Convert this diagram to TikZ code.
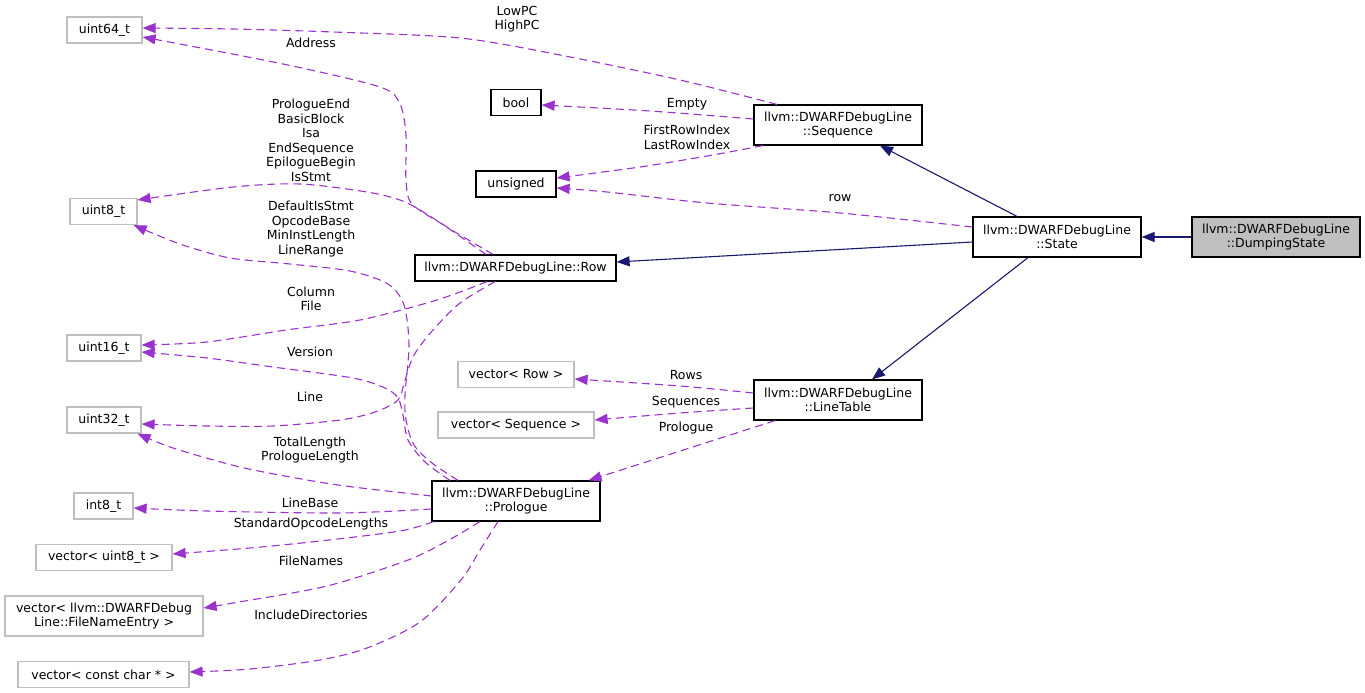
\documentclass[tikz,border=0pt]{standalone}
\usepackage{fontspec}
\setmainfont{DejaVu Sans}
\usetikzlibrary{arrows.meta}
\definecolor{deppurple}{HTML}{9A32CD}
\definecolor{inhblue}{HTML}{191970}
\definecolor{greyline}{HTML}{BFBFBF}
\definecolor{focusfill}{HTML}{BFBFBF}
\begin{document}
\begin{tikzpicture}[x=1pt,y=-1pt,
  every node/.style={font=\fontsize{12.5}{14.5}\selectfont, inner sep=0pt, align=center},
  docbox/.style={draw=black, line width=1.2pt, fill=white, rectangle},
  extbox/.style={draw=greyline, line width=1.2pt, fill=white, rectangle},
  focusbox/.style={draw=black, line width=1.2pt, fill=focusfill, rectangle},
  dep/.style={draw=deppurple, line width=1.1pt, dash pattern=on 8pt off 5pt,
    -{Triangle[length=13pt,width=10pt,fill=deppurple]}},
  inh/.style={draw=inhblue, line width=1.1pt,
    -{Triangle[length=13pt,width=10pt,fill=inhblue]}},
  lbl/.style={text=black}
]
\fill[white] (0,0) rectangle (1365,693);
\useasboundingbox (0,0) rectangle (1365,693);

% ---------- nodes ----------
\node[extbox, minimum width=75pt, minimum height=26pt] (u64) at (104.5,30) {uint64\_t};
\node[extbox, minimum width=67pt, minimum height=26pt] (u8) at (103.5,211.5) {uint8\_t};
\node[docbox, minimum width=50pt, minimum height=26pt] (bool) at (516,102.5) {bool};
\node[docbox, minimum width=80pt, minimum height=26pt] (unsig) at (516,184) {unsigned};
\node[docbox, minimum width=168pt, minimum height=40pt] (seq) at (838,125) {llvm::DWARFDebugLine\\::Sequence};
\node[docbox, minimum width=168pt, minimum height=40pt] (state) at (1057,237) {llvm::DWARFDebugLine\\::State};
\node[focusbox, minimum width=168pt, minimum height=40pt] (dump) at (1276,237) {llvm::DWARFDebugLine\\::DumpingState};
\node[docbox, minimum width=201pt, minimum height=26pt] (row) at (515.5,268) {llvm::DWARFDebugLine::Row};
\node[extbox, minimum width=74pt, minimum height=26pt] (u16) at (104,348) {uint16\_t};
\node[extbox, minimum width=74pt, minimum height=26pt] (u32) at (104,420) {uint32\_t};
\node[extbox, minimum width=116pt, minimum height=26pt] (vrow) at (516,374.5) {vector< Row >};
\node[extbox, minimum width=156pt, minimum height=26pt] (vseq) at (516,425) {vector< Sequence >};
\node[docbox, minimum width=168pt, minimum height=40pt] (lt) at (838,400) {llvm::DWARFDebugLine\\::LineTable};
\node[docbox, minimum width=168pt, minimum height=40pt] (pro) at (516,501) {llvm::DWARFDebugLine\\::Prologue};
\node[extbox, minimum width=59pt, minimum height=26pt] (i8) at (103.5,506) {int8\_t};
\node[extbox, minimum width=136pt, minimum height=26pt] (vu8) at (104,557.5) {vector< uint8\_t >};
\node[extbox, minimum width=198pt, minimum height=40pt] (vfn) at (104,616) {vector< llvm::DWARFDebug\\Line::FileNameEntry >};
\node[extbox, minimum width=171pt, minimum height=26pt] (vcc) at (103.5,674.5) {vector< const char * >};

% ---------- end points ----------
\coordinate (seqLow) at ([xshift=-61pt]seq.north);
\coordinate (u64a) at ([yshift=2pt]u64.east);
\coordinate (u64b) at ([yshift=-7pt]u64.east);
\coordinate (rowN1) at ([xshift=-29.5pt]row.north);
\coordinate (rowN2) at ([xshift=-22.5pt]row.north);
\coordinate (rowS1) at ([xshift=-28.5pt]row.south);
\coordinate (rowS2) at ([xshift=-20.5pt]row.south);
\coordinate (u8a) at ([yshift=11.5pt]u8.east);
\coordinate (u8b) at ([xshift=-4pt]u8.south east);
\coordinate (proN1) at ([xshift=-58pt]pro.north);
\coordinate (proN2) at ([xshift=-66pt]pro.north);
\coordinate (u16a) at ([yshift=3pt]u16.east);
\coordinate (u16b) at ([yshift=-4pt]u16.east);
\coordinate (u32a) at ([yshift=-4pt]u32.east);
\coordinate (u32b) at ([xshift=-4pt]u32.south east);
\coordinate (proW1) at ([yshift=5pt]pro.west);
\coordinate (proW2) at ([yshift=-8pt]pro.west);
\coordinate (proSW) at ([xshift=2pt]pro.south west);
\coordinate (proS1) at ([xshift=-36pt]pro.south);
\coordinate (proS2) at ([xshift=-18pt]pro.south);
\coordinate (i8a) at ([yshift=-2pt]i8.east);
\coordinate (vu8a) at ([yshift=3.5pt]vu8.east);
\coordinate (vfna) at ([yshift=8pt]vfn.east);
\coordinate (vcca) at ([yshift=2.5pt]vcc.east);
\coordinate (seqW) at ([yshift=6pt]seq.west);
\coordinate (boolE) at ([yshift=-2.5pt]bool.east);
\coordinate (seqS) at ([xshift=-75pt]seq.south);
\coordinate (unsA) at ([yshift=6pt]unsig.east);
\coordinate (unsB) at ([yshift=-4pt]unsig.east);
\coordinate (stW1) at ([yshift=10pt]state.west);
\coordinate (stW2) at ([yshift=-5pt]state.west);
\coordinate (rowE) at ([yshift=6pt]row.east);
\coordinate (stN) at ([xshift=-40pt]state.north);
\coordinate (seqS2) at ([xshift=42pt]seq.south);
\coordinate (stS) at ([xshift=-29pt]state.south);
\coordinate (ltN) at ([xshift=34pt]lt.north);
\coordinate (ltW1) at ([yshift=7pt]lt.west);
\coordinate (ltW2) at ([yshift=-8pt]lt.west);
\coordinate (vrowE) at ([yshift=-4.5pt]vrow.east);
\coordinate (vseqE) at ([yshift=5pt]vseq.east);
\coordinate (ltS) at ([xshift=-63pt]lt.south);
\coordinate (proNE) at ([xshift=-12pt]pro.north east);

% ---------- inheritance ----------
\draw[inh] (dump.west) -- (state.east);
\draw[inh] (stN) -- (seqS2);
\draw[inh] (stW2) -- (rowE);
\draw[inh] (stS) -- (ltN);

% ---------- usage ----------
\draw[dep] plot[smooth] coordinates {(seqLow) (680,80) (560,55) (460,38) (333,32) (233,29) (u64a)};
\draw[dep] plot[smooth] coordinates {(rowN1) (445,226) (412,204) (406,180) (406,135) (400,104) (380,87) (283,64) (u64b)};
\draw[dep] plot[smooth] coordinates {(rowN2) (455,232) (420,210) (400,200) (367,192) (300,184) (233,187) (u8a)};
\draw[dep] plot[smooth] coordinates {(proN1) (432,463) (414,445) (406,420) (405,395) (409,345) (404,305) (388,284) (350,271) (290,264) (230,258) (180,244) (u8b)};
\draw[dep] plot[smooth] coordinates {(rowS1) (460,292) (427,303) (360,320) (286,330) (207,342) (u16a)};
\draw[dep] plot[smooth] coordinates {(rowS2) (460,303) (433,330) (414,355) (405,380) (398,400) (375,412) (340,420) (273,426) (207,426) (u32a)};
\draw[dep] plot[smooth] coordinates {(proN2) (425,462) (408,440) (403,415) (398,398) (385,388) (353,378) (273,367) (207,358) (u16b)};
\draw[dep] plot[smooth] coordinates {(proW1) (353,487) (307,480) (240,467) (173,448) (u32b)};
\draw[dep] plot[smooth] coordinates {(proW2) (340,513) (207,511) (i8a)};
\draw[dep] plot[smooth] coordinates {(proSW) (400,531) (320,541) (250,548) (vu8a)};
\draw[dep] plot[smooth] coordinates {(proS1) (449,540) (408,560) (327,586) (233,603) (vfna)};
\draw[dep] plot[smooth] coordinates {(proS2) (480,550) (461,580) (420,622) (367,648) (320,660) (250,669) (vcca)};
\draw[dep] plot[smooth] coordinates {(seqW) (650,111) (boolE)};
\draw[dep] plot[smooth] coordinates {(seqS) (707,156) (640,167) (unsA)};
\draw[dep] plot[smooth] coordinates {(stW1) (840,213) (707,203) (607,192) (unsB)};
\draw[dep] plot[smooth] coordinates {(ltW1) (680,386) (vrowE)};
\draw[dep] plot[smooth] coordinates {(ltW2) (680,413) (vseqE)};
\draw[dep] (ltS) -- (proNE);

% ---------- labels ----------
\node[lbl] (lLow) at (517,19) {LowPC\\HighPC};
\node[lbl] (lAddr) at (311,43) {Address};
\node[lbl] (lEmpty) at (687,104) {Empty};
\node[lbl] (lFirst) at (687,137.5) {FirstRowIndex\\LastRowIndex};
\node[lbl] (lPE) at (311,140.5) {PrologueEnd\\BasicBlock\\Isa\\EndSequence\\EpilogueBegin\\IsStmt};
\node[lbl] (lRow) at (840,198) {row};
\node[lbl] (lDef) at (311,229) {DefaultIsStmt\\OpcodeBase\\MinInstLength\\LineRange};
\node[lbl] (lCol) at (311,299) {Column\\File};
\node[lbl] (lVer) at (310,352) {Version};
\node[lbl] (lRows) at (686,375) {Rows};
\node[lbl] (lSeqs) at (686,402) {Sequences};
\node[lbl] (lPro) at (686,428) {Prologue};
\node[lbl] (lLine) at (310,397) {Line};
\node[lbl] (lTot) at (310,450) {TotalLength\\PrologueLength};
\node[lbl] (lLB) at (310,503) {LineBase};
\node[lbl] (lStd) at (311,524) {StandardOpcodeLengths};
\node[lbl] (lFN) at (311,561) {FileNames};
\node[lbl] (lInc) at (311,615) {IncludeDirectories};
\end{tikzpicture}
\end{document}
